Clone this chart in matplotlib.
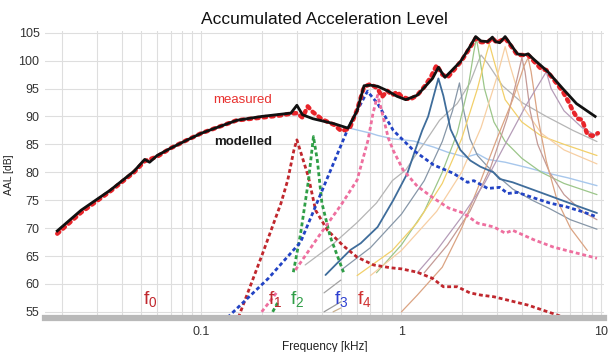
import matplotlib
matplotlib.use("Agg")
import matplotlib.pyplot as plt
from matplotlib.ticker import LogLocator, NullFormatter, FixedLocator, FixedFormatter

plt.rcParams['font.family'] = ['Liberation Sans', 'DejaVu Sans']
plt.rcParams['mathtext.fontset'] = 'custom'
plt.rcParams['mathtext.rm'] = 'Liberation Sans'
plt.rcParams['mathtext.it'] = 'Liberation Sans'

# ---- data (frequency in kHz, level in dB) ----
measured_f = [0.019, 0.025, 0.035, 0.046, 0.052, 0.06, 0.07, 0.085, 0.1, 0.15, 0.2, 0.25,
              0.28, 0.30, 0.32, 0.34, 0.36, 0.4, 0.46, 0.5, 0.55, 0.6, 0.65, 0.7, 0.76,
              0.8, 0.85, 0.9, 0.95, 1.0, 1.1, 1.2, 1.3, 1.4, 1.5, 1.6, 1.7, 1.8, 2.0, 2.2,
              2.35, 2.5, 2.7, 2.85, 3.0, 3.3, 3.5, 3.8, 4.3, 4.7, 5.0, 5.3, 5.8, 6.4, 6.8,
              7.2, 7.6, 8.0, 8.5, 9.0, 9.6]
measured_L = [69.0, 72.8, 76.6, 80.0, 82.0, 82.8, 84.3, 85.8, 87.0, 89.3, 89.8, 90.2,
              90.5, 90.6, 89.8, 91.8, 90.8, 89.5, 88.5, 87.4, 87.8, 91.2, 95.3, 95.8, 95.0,
              93.5, 94.6, 93.8, 94.4, 93.6, 93.0, 93.8, 95.3, 97.0, 99.2, 97.5, 97.0, 98.0,
              100.0, 102.3, 104.0, 103.3, 103.3, 104.0, 103.2, 104.0, 102.8, 101.0, 101.0,
              99.5, 98.5, 98.3, 96.5, 94.5, 92.8, 91.0, 89.6, 89.4, 86.8, 86.5, 87.0]

modelled_f = [0.019, 0.025, 0.035, 0.046, 0.052, 0.055, 0.06, 0.07, 0.085, 0.1, 0.115,
              0.15, 0.2, 0.25, 0.28, 0.30, 0.32, 0.36, 0.46, 0.54, 0.60, 0.65, 0.70, 0.76,
              0.85, 0.95, 1.05, 1.2, 1.43, 1.53, 1.65, 1.76, 1.97, 2.2, 2.35, 2.5, 2.7,
              2.85, 2.95, 3.1, 3.3, 3.5, 3.8, 4.1, 4.3, 4.6, 5.4, 6.4, 7.5, 9.3]
modelled_L = [69.5, 73.2, 76.8, 80.2, 82.3, 81.8, 83.0, 84.3, 85.8, 87.0, 87.8,
              89.3, 90.0, 90.4, 90.6, 92.0, 90.3, 89.6, 88.7, 87.9, 91.0, 95.5, 95.6, 95.4,
              94.6, 93.6, 93.0, 93.8, 96.8, 98.8, 97.0, 98.0, 99.8, 102.5, 104.3, 103.5,
              103.4, 104.2, 103.4, 103.2, 104.3, 103.0, 101.2, 101.0, 101.2, 100.2, 98.0,
              95.0, 92.3, 90.0]

# individual modes f1..f4 (dashed)
f1_f = [0.153, 0.2, 0.25, 0.27, 0.29, 0.30, 0.343, 0.372, 0.427, 0.513, 0.60, 0.725, 0.88,
        1.0, 1.2, 1.43, 1.62, 1.9, 2.2, 2.5, 2.9, 3.4, 4.3, 5.4, 6.4]
f1_L = [54.0, 65.0, 74.5, 78.6, 84.0, 85.8, 79.1, 73.2, 69.6, 66.8, 64.8, 63.4, 62.9,
        62.7, 62.1, 61.0, 59.5, 59.5, 58.4, 58.0, 57.7, 57.1, 56.2, 55.0, 54.1]

f2_f = [0.288, 0.313, 0.343, 0.363, 0.38, 0.40, 0.44, 0.513]
f2_L = [62.1, 69.0, 78.6, 86.4, 82.0, 74.5, 68.5, 62.1]

f3_f = [0.135, 0.216, 0.313, 0.543, 0.61, 0.676, 0.76, 0.91, 1.15, 1.45, 1.82, 2.14, 2.3,
        2.7, 3.1, 3.4, 3.8, 4.6, 5.5, 6.7, 8.1, 9.5]
f3_L = [54.0, 61.0, 67.5, 88.0, 91.5, 94.5, 92.3, 87.5, 83.9, 81.3, 79.8, 78.2, 78.5,
        77.1, 77.3, 76.2, 76.4, 75.4, 74.5, 73.8, 72.9, 72.0]

f4_f = [0.295, 0.385, 0.50, 0.60, 0.68, 0.72, 0.76, 0.79, 0.86, 0.91, 1.02, 1.2, 1.43,
        1.72, 2.04, 2.4, 2.9, 3.3, 3.6, 4.6, 5.75, 7.2, 9.5]
f4_L = [62.5, 68.5, 74.2, 78.6, 85.7, 90.5, 93.8, 91.5, 86.1, 83.9, 80.4, 77.5, 75.5,
        73.6, 72.7, 70.9, 70.2, 69.1, 69.6, 67.9, 66.6, 65.7, 64.6]

# short low-level pieces of f4 and f2
f4_low_f = [0.20, 0.237]
f4_low_L = [55.0, 58.4]
f2_low_f = [0.227, 0.24]
f2_low_L = [55.0, 56.6]

# higher modes (thin solid)
m0_f = [0.019, 0.025, 0.035, 0.046, 0.052, 0.055, 0.06, 0.07, 0.085, 0.1, 0.115, 0.15,
        0.2, 0.25, 0.28, 0.32, 0.36, 0.46, 0.55, 0.7, 0.76, 0.9, 1.15, 1.45, 1.7, 2.1,
        2.4, 2.7, 3.3, 4.3, 5.3, 6.8, 9.5]
m0_L = [69.4, 73.1, 76.7, 80.1, 82.2, 81.7, 82.9, 84.2, 85.7, 86.9, 87.7, 89.2,
        89.9, 90.2, 90.4, 90.2, 89.6, 88.7, 87.9, 87.0, 86.6, 86.0, 85.6, 84.5, 83.6, 82.7,
        83.3, 82.3, 81.8, 80.8, 79.9, 79.0, 77.6]

m5_f = [0.417, 0.495, 0.556, 0.626, 0.76, 0.91, 1.07, 1.17, 1.27, 1.36, 1.45, 1.53, 1.62,
        1.76, 1.97, 2.21, 2.48, 2.88, 3.1, 3.6, 5.4, 7.8, 9.5]
m5_L = [61.6, 64.3, 66.1, 67.3, 70.2, 75.0, 79.8, 83.9, 87.5, 90.0, 93.7, 96.8, 93.7,
        87.7, 84.0, 82.1, 81.0, 80.0, 78.8, 78.2, 75.9, 73.8, 72.7]

m6_f = [0.5, 0.7, 1.0, 1.3, 1.6, 1.8, 1.95, 2.05, 2.2, 2.4, 2.7, 3.1, 3.6, 4.5, 5.5, 7.0, 9.5]
m6_L = [62.5, 66.5, 72.5, 78.5, 85.5, 91.0, 96.0, 91.0, 86.0, 83.0, 81.0, 79.0, 77.0,
        75.0, 73.5, 71.5, 69.8]

m7_f = [0.33, 0.45, 0.6, 0.75, 0.9, 1.05, 1.2, 1.3, 1.55, 1.9, 2.2, 2.4, 2.5, 2.7, 3.2,
        4.0, 5.3, 7.2, 9.5]
m7_L = [63.4, 67.0, 71.0, 74.5, 78.5, 80.4, 83.5, 85.2, 89.3, 92.3, 96.0, 99.5, 101.0,
        99.5, 95.5, 92.5, 90.0, 87.5, 85.5]

m8_f = [0.75, 1.0, 1.3, 1.6, 1.9, 2.15, 2.3, 2.37, 2.45, 2.6, 2.9, 3.3, 4.0, 5.0, 6.5, 9.5]
m8_L = [62.0, 67.0, 73.0, 80.0, 87.0, 95.0, 101.5, 104.0, 101.0, 95.0, 89.0, 85.5, 82.5,
        80.0, 78.0, 76.0]

m9_f = [0.6, 0.9, 1.2, 1.6, 2.0, 2.4, 2.65, 2.75, 2.9, 3.3, 4.0, 5.0, 6.5, 9.5]
m9_L = [61.5, 66.0, 71.0, 78.0, 86.0, 95.0, 101.0, 103.0, 100.0, 93.0, 89.0, 86.5, 85.0, 83.0]

m10_f = [0.7, 1.0, 1.5, 2.0, 2.5, 3.0, 3.3, 3.5, 4.0, 5.0, 6.5, 9.5]
m10_L = [61.5, 66.0, 73.0, 80.0, 88.0, 97.0, 102.5, 99.0, 92.0, 87.0, 84.0, 81.5]

m11_f = [1.3, 1.7, 2.2, 2.8, 3.4, 3.8, 4.0, 4.15, 4.4, 4.8, 5.5, 6.5, 8.0, 9.5]
m11_L = [62.0, 67.0, 73.0, 81.0, 90.0, 97.0, 100.5, 98.0, 91.0, 85.0, 80.0, 76.0, 73.0, 71.5]

m12_f = [1.0, 1.2, 1.6, 2.0, 2.4, 3.0, 3.6, 4.1, 4.3, 4.45, 4.8, 5.3, 6.0, 7.0, 8.5]
m12_L = [55.0, 58.0, 63.0, 70.0, 77.0, 86.0, 93.0, 99.0, 100.5, 98.0, 90.0, 82.0, 75.0,
         70.0, 66.0]

m13_f = [1.2, 1.5, 2.0, 2.6, 3.3, 4.2, 5.0, 5.3, 5.6, 6.5, 8.0, 9.5]
m13_L = [62.0, 66.0, 72.0, 78.0, 85.0, 92.0, 96.5, 98.0, 95.0, 91.0, 88.0, 86.5]

# low-level pieces near the axis
low_a_f = [0.41, 0.498]
low_a_L = [58.4, 60.7]
low_b_f = [0.41, 0.498]
low_b_L = [55.0, 56.8]
low_c_f = [0.455, 0.498]
low_c_L = [55.0, 55.7]

y_ticks = [55, 60, 65, 70, 75, 80, 85, 90, 95, 100, 105]
x_ticks = [0.1, 1, 10]
x_ticklabels = ['0.1', '1', '10']

# ---- figure ----
fig = plt.figure(figsize=(6.11, 3.52), dpi=100)
ax = fig.add_axes([45 / 611, 34 / 352, 559 / 611, 287 / 352])
ax.set_xscale('log')
ax.set_xlim(0.0165, 10.3)
ax.set_ylim(53.9, 105.3)

# grid
ax.xaxis.set_major_locator(FixedLocator(x_ticks))
ax.xaxis.set_major_formatter(FixedFormatter(x_ticklabels))
ax.xaxis.set_minor_locator(LogLocator(base=10, subs=range(2, 10)))
ax.xaxis.set_minor_formatter(NullFormatter())
ax.yaxis.set_major_locator(FixedLocator(y_ticks))
ax.grid(True, which='both', axis='x', color='#dedede', lw=0.8)
ax.grid(True, which='major', axis='y', color='#dedede', lw=0.8)
ax.set_axisbelow(True)

thin = [
    (m0_f, m0_L, '#a7c7ec', 1.0),
    (m7_f, m7_L, '#b5b5b5', 0.9),
    (m6_f, m6_L, '#8797a8', 0.9),
    (m8_f, m8_L, '#9cc68a', 0.9),
    (m9_f, m9_L, '#f2d06a', 0.9),
    (m10_f, m10_L, '#f7cfa3', 0.9),
    (m11_f, m11_L, '#c49a96', 0.9),
    (m12_f, m12_L, '#dba483', 0.9),
    (m13_f, m13_L, '#b59cb8', 0.9),
    (m5_f, m5_L, '#3f6d9b', 1.3),
    (low_a_f, low_a_L, '#a3a3a3', 0.9),
    (low_b_f, low_b_L, '#9a9a9a', 0.9),
    (low_c_f, low_c_L, '#c9b08e', 0.9),
]
for fx, ly, col, lw in thin:
    ax.plot(fx, ly, color=col, lw=lw, solid_capstyle='round')

dash = (0, (1.4, 1.0))
ax.plot(f1_f, f1_L, color='#c0272d', lw=2.0, ls=dash)
ax.plot(f2_f, f2_L, color='#2f9e46', lw=2.0, ls=dash)
ax.plot(f3_f, f3_L, color='#2243c4', lw=2.0, ls=dash)
ax.plot(f4_f, f4_L, color='#ee6f9f', lw=2.0, ls=dash)
ax.plot(f4_low_f, f4_low_L, color='#ee6f9f', lw=2.0, ls=dash)
ax.plot(f2_low_f, f2_low_L, color='#2f9e46', lw=2.0, ls=dash)

ax.plot(measured_f, measured_L, color='#e8242a', lw=3.2, ls=(0, (0.6, 1.1)),
        dash_capstyle='round')
ax.plot(modelled_f, modelled_L, color='#111111', lw=2.0, solid_joinstyle='round')

# annotations
ax.text(0.161, 92.9, 'measured', color='#e8302e', fontsize=9.5, ha='center', va='center')
ax.text(0.161, 85.5, 'modelled', color='#1a1a1a', fontsize=9.5, fontweight='bold',
        ha='center', va='center')
mode_labels = [
    (0.0555, r'f$_0$', '#c0272d'),
    (0.235, r'f$_1$', '#c0272d'),
    (0.30, r'f$_2$', '#2f9e46'),
    (0.50, r'f$_3$', '#2d3fd0'),
    (0.65, r'f$_4$', '#d03030'),
]
for fx, txt, col in mode_labels:
    ax.text(fx, 57.3, txt, color=col, fontsize=14, ha='center', va='center')

# axes styling
for s in ['left', 'top', 'right']:
    ax.spines[s].set_visible(False)
ax.spines['bottom'].set_color('#b9b9b9')
ax.spines['bottom'].set_linewidth(4.5)
ax.tick_params(axis='both', which='both', length=0, labelsize=9, colors='#333333', pad=6)
ax.tick_params(axis='y', pad=4)

ax.set_title('Accumulated Acceleration Level', fontsize=12.5, color='#111111', pad=5)
ax.set_xlabel('Frequency [kHz]', fontsize=8.5, color='#222222', labelpad=2)
ax.set_ylabel('AAL [dB]', fontsize=7.5, color='#222222', labelpad=3)

fig.savefig('out.png', dpi=100)
